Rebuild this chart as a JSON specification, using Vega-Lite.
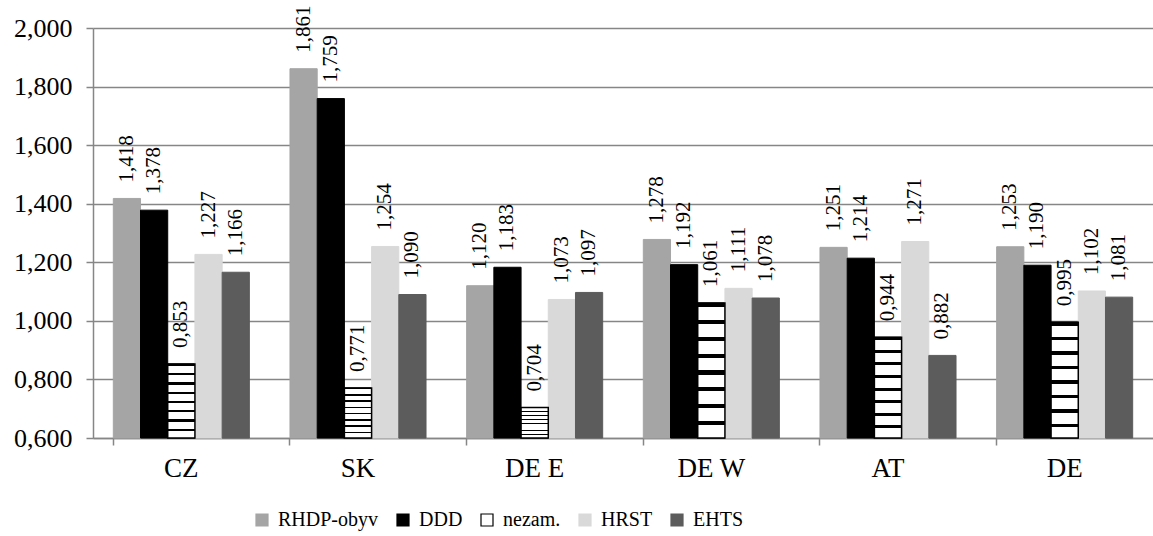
{
  "$schema": "https://vega.github.io/schema/vega-lite/v6.json",
  "width": 1060,
  "height": 410,
  "autosize": {"type": "none"},
  "padding": {"left": 93, "top": 28, "right": 0, "bottom": 98},
  "background": "white",
  "config": {
    "locale": {"number": {"decimal": ",", "thousands": ".", "grouping": [3], "currency": ["", ""]}},
    "view": {"stroke": null},
    "font": "'Liberation Serif', 'Times New Roman', serif"
  },
  "data": {
    "values": [
      {"country": "CZ", "series": "RHDP-obyv", "value": 1.418},
      {"country": "CZ", "series": "DDD", "value": 1.378},
      {"country": "CZ", "series": "nezam.", "value": 0.853},
      {"country": "CZ", "series": "HRST", "value": 1.227},
      {"country": "CZ", "series": "EHTS", "value": 1.166},
      {"country": "SK", "series": "RHDP-obyv", "value": 1.861},
      {"country": "SK", "series": "DDD", "value": 1.759},
      {"country": "SK", "series": "nezam.", "value": 0.771},
      {"country": "SK", "series": "HRST", "value": 1.254},
      {"country": "SK", "series": "EHTS", "value": 1.090},
      {"country": "DE E", "series": "RHDP-obyv", "value": 1.120},
      {"country": "DE E", "series": "DDD", "value": 1.183},
      {"country": "DE E", "series": "nezam.", "value": 0.704},
      {"country": "DE E", "series": "HRST", "value": 1.073},
      {"country": "DE E", "series": "EHTS", "value": 1.097},
      {"country": "DE W", "series": "RHDP-obyv", "value": 1.278},
      {"country": "DE W", "series": "DDD", "value": 1.192},
      {"country": "DE W", "series": "nezam.", "value": 1.061},
      {"country": "DE W", "series": "HRST", "value": 1.111},
      {"country": "DE W", "series": "EHTS", "value": 1.078},
      {"country": "AT", "series": "RHDP-obyv", "value": 1.251},
      {"country": "AT", "series": "DDD", "value": 1.214},
      {"country": "AT", "series": "nezam.", "value": 0.944},
      {"country": "AT", "series": "HRST", "value": 1.271},
      {"country": "AT", "series": "EHTS", "value": 0.882},
      {"country": "DE", "series": "RHDP-obyv", "value": 1.253},
      {"country": "DE", "series": "DDD", "value": 1.190},
      {"country": "DE", "series": "nezam.", "value": 0.995},
      {"country": "DE", "series": "HRST", "value": 1.102},
      {"country": "DE", "series": "EHTS", "value": 1.081}
    ]
  },
  "encoding": {
    "x": {
      "field": "country", "type": "nominal", "sort": null,
      "scale": {"paddingInner": 0.23, "paddingOuter": 0.115},
      "axis": {
        "title": null, "labelAngle": 0, "labelFont": "'Liberation Serif', 'Times New Roman', serif", "labelFontSize": 27,
        "labelColor": "black", "domainColor": "#868686", "domainWidth": 1.5,
        "tickColor": "#868686", "tickWidth": 1.5, "tickSize": 7, "bandPosition": 0,
        "labelPadding": 10
      }
    },
    "xOffset": {"field": "series", "type": "nominal", "sort": ["RHDP-obyv", "DDD", "nezam.", "HRST", "EHTS"]},
    "y": {
      "field": "value", "type": "quantitative",
      "scale": {"domain": [0.6, 2.0], "zero": false, "nice": false},
      "axis": {
        "title": null, "values": [0.6, 0.8, 1.0, 1.2, 1.4, 1.6, 1.8, 2.0], "format": ".3f",
        "labelFont": "'Liberation Serif', 'Times New Roman', serif", "labelFontSize": 26, "labelColor": "black",
        "grid": true, "gridColor": "#868686", "gridWidth": 1.5,
        "domainColor": "#868686", "domainWidth": 1.5,
        "tickColor": "#868686", "tickWidth": 1.5, "tickSize": 7, "labelPadding": 14
      }
    }
  },
  "layer": [
    {
      "mark": {"type": "bar", "strokeWidth": 1},
      "encoding": {
        "y2": {"datum": 0.6},
        "fill": {
          "field": "series", "type": "nominal",
          "sort": ["RHDP-obyv", "DDD", "nezam.", "HRST", "EHTS"],
          "scale": {"domain": ["RHDP-obyv", "DDD", "nezam.", "HRST", "EHTS"], "range": ["#a5a5a5", "#000000", "#ffffff", "#d9d9d9", "#5c5c5c"]},
          "legend": {
            "title": null, "orient": "none", "legendX": 159, "legendY": 482, "direction": "horizontal",
            "symbolType": "square", "symbolSize": 144, "labelFont": "'Liberation Serif', 'Times New Roman', serif",
            "labelFontSize": 20, "labelColor": "black", "columnPadding": 14, "labelOffset": 6,
            "symbolStrokeWidth": 1.2
          }
        },
        "stroke": {
          "field": "series", "type": "nominal",
          "sort": ["RHDP-obyv", "DDD", "nezam.", "HRST", "EHTS"],
          "scale": {"domain": ["RHDP-obyv", "DDD", "nezam.", "HRST", "EHTS"], "range": ["#a5a5a5", "#000000", "#000000", "#d9d9d9", "#5c5c5c"]}
        }
      }
    },
    {
      "transform": [{"filter": "datum.series === 'nezam.'"}],
      "mark": {
        "type": "bar", "stroke": "black", "strokeWidth": 1.5,
        "fill": {
          "gradient": "linear", "x1": 0, "y1": 0, "x2": 0, "y2": 1,
          "stops": [
            {"offset": 0, "color": "#000"}, {"offset": 0.03, "color": "#000"}, {"offset": 0.03, "color": "#fff"},
            {"offset": 0.125, "color": "#fff"}, {"offset": 0.125, "color": "#000"}, {"offset": 0.155, "color": "#000"}, {"offset": 0.155, "color": "#fff"},
            {"offset": 0.25, "color": "#fff"}, {"offset": 0.25, "color": "#000"}, {"offset": 0.28, "color": "#000"}, {"offset": 0.28, "color": "#fff"},
            {"offset": 0.375, "color": "#fff"}, {"offset": 0.375, "color": "#000"}, {"offset": 0.405, "color": "#000"}, {"offset": 0.405, "color": "#fff"},
            {"offset": 0.5, "color": "#fff"}, {"offset": 0.5, "color": "#000"}, {"offset": 0.53, "color": "#000"}, {"offset": 0.53, "color": "#fff"},
            {"offset": 0.625, "color": "#fff"}, {"offset": 0.625, "color": "#000"}, {"offset": 0.655, "color": "#000"}, {"offset": 0.655, "color": "#fff"},
            {"offset": 0.75, "color": "#fff"}, {"offset": 0.75, "color": "#000"}, {"offset": 0.78, "color": "#000"}, {"offset": 0.78, "color": "#fff"},
            {"offset": 0.875, "color": "#fff"}, {"offset": 0.875, "color": "#000"}, {"offset": 0.905, "color": "#000"}, {"offset": 0.905, "color": "#fff"},
            {"offset": 1, "color": "#fff"}
          ]
        }
      },
      "encoding": {"y2": {"datum": 0.6}}
    },
    {
      "mark": {"type": "text", "angle": 270, "align": "left", "baseline": "middle", "dx": 16, "font": "'Liberation Serif', 'Times New Roman', serif", "fontSize": 21, "color": "black"},
      "encoding": {
        "text": {"field": "value", "type": "quantitative", "format": ".3f"}
      }
    }
  ]
}
